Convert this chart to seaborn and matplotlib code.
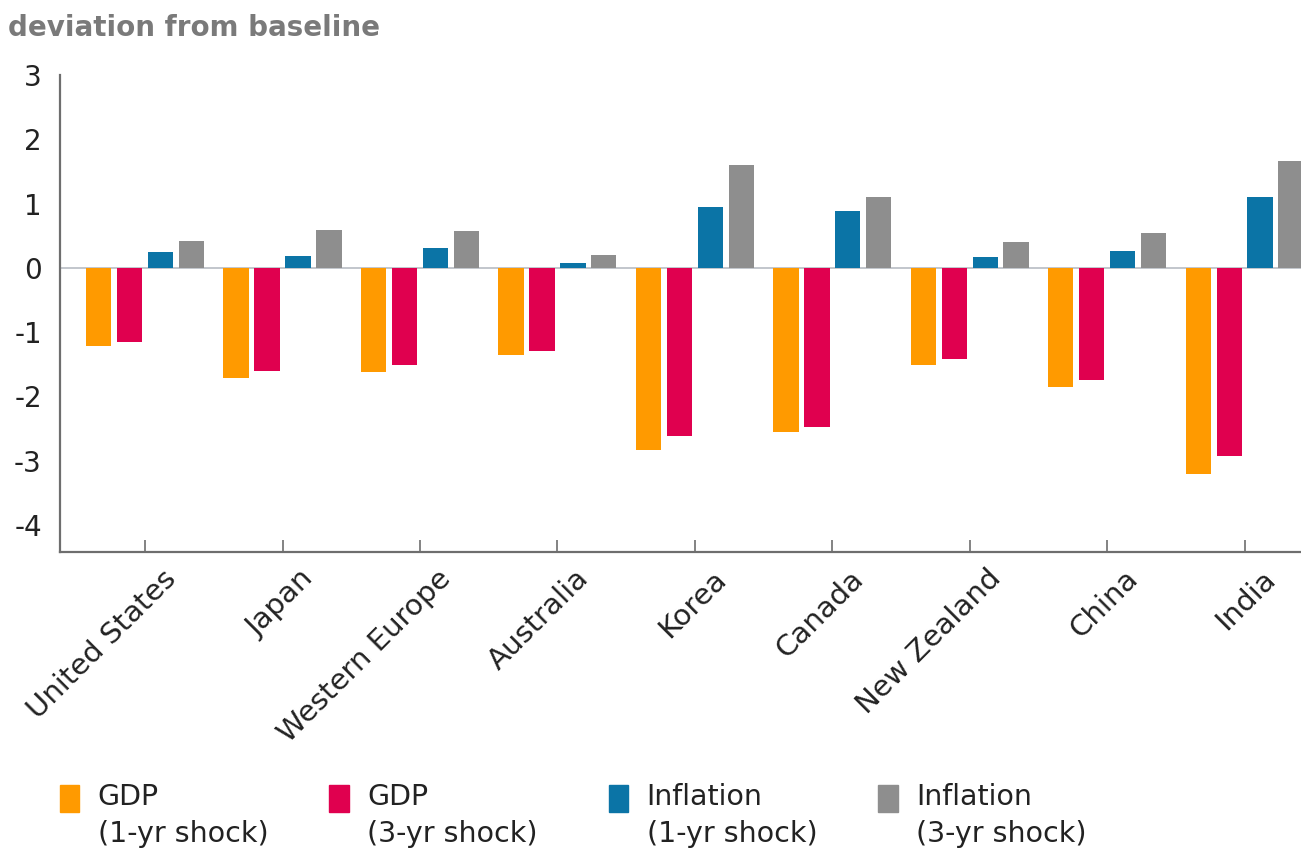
import matplotlib
matplotlib.use("Agg")
import matplotlib.pyplot as plt
import matplotlib.transforms as mtransforms
from matplotlib.patches import Rectangle
import pandas as pd
import seaborn as sns

# Regions and scenario results (deviation from baseline)
regions = ["United States", "Japan", "Western Europe", "Australia", "Korea",
           "Canada", "New Zealand", "China", "India"]
series = ["GDP\n(1-yr shock)", "GDP\n(3-yr shock)",
          "Inflation\n(1-yr shock)", "Inflation\n(3-yr shock)"]
gdp_1yr = [-1.22, -1.71, -1.62, -1.36, -2.83, -2.56, -1.51, -1.85, -3.20]
gdp_3yr = [-1.15, -1.60, -1.51, -1.29, -2.61, -2.48, -1.42, -1.75, -2.92]
infl_1yr = [0.24, 0.19, 0.31, 0.08, 0.95, 0.89, 0.17, 0.27, 1.10]
infl_3yr = [0.42, 0.59, 0.58, 0.20, 1.60, 1.10, 0.41, 0.55, 1.66]
yticks = [3, 2, 1, 0, -1, -2, -3, -4]

colors = ["#FF9A00", "#E0004F", "#0B74A6", "#8E8E8E"]

rows = []
for s, vals in zip(series, [gdp_1yr, gdp_3yr, infl_1yr, infl_3yr]):
    for r, v in zip(regions, vals):
        rows.append({"region": r, "series": s, "value": v})
df = pd.DataFrame(rows)

sns.set_theme(style="white")
plt.rcParams["font.family"] = ["DejaVu Sans"]

fig = plt.figure(figsize=(13.01, 8.52), dpi=100)
ax = fig.add_axes([0.046, 0.352, 0.954, 0.560])

sns.barplot(data=df, x="region", y="value", hue="series", order=regions,
            hue_order=series, palette=colors, width=0.9, gap=0.18,
            saturation=1, errorbar=None, legend=False, linewidth=0, ax=ax)

ax.axhline(0, color="#B8BCC4", lw=1.2, zorder=0)
ax.set_xlim(-0.62, 8.41)
ax.set_ylim(-4.42, 3.0)
ax.set_yticks(yticks)
ax.set_yticklabels([str(t) for t in yticks], fontsize=20, color="#222222")
ax.set_xlabel("")
ax.set_ylabel("")

for side in ["top", "right"]:
    ax.spines[side].set_visible(False)
for side in ["left", "bottom"]:
    ax.spines[side].set_color("#6E6E6E")
    ax.spines[side].set_linewidth(1.6)

ax.tick_params(axis="y", length=0, pad=13)
ax.tick_params(axis="x", direction="in", length=9, width=1.2, color="#6E6E6E",
               bottom=True, pad=9)
ax.set_xticks(range(len(regions)))
ax.set_xticklabels(regions, fontsize=21, color="#222222", rotation=45,
                   ha="right", va="top", rotation_mode="anchor")
offset = mtransforms.ScaledTranslation(0.17, 0.0, fig.dpi_scale_trans)
for lbl in ax.get_xticklabels():
    lbl.set_transform(lbl.get_transform() + offset)

fig.text(0.006, 0.967, "deviation from baseline", fontsize=20,
         fontweight="bold", color="#7A7A7A", ha="left", va="center")

# Legend row beneath the plot
legend_x = [0.046, 0.253, 0.468, 0.675]
for x, c, s in zip(legend_x, colors, series):
    fig.add_artist(Rectangle((x, 0.047), 0.015, 0.032,
                             transform=fig.transFigure, color=c))
    fig.text(x + 0.029, 0.081, s, fontsize=20.5, color="#222222",
             ha="left", va="top", linespacing=1.4)

fig.savefig("out.png", dpi=100)
